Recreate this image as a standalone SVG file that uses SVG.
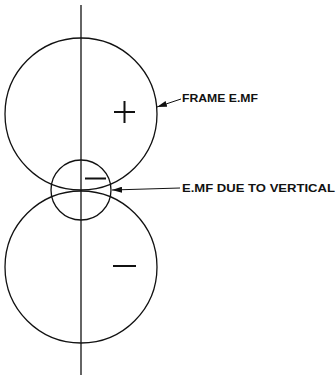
<svg xmlns="http://www.w3.org/2000/svg" width="336" height="377" viewBox="0 0 336 377">
<style>
.c{fill:none;stroke:#111;stroke-width:1.3}
.s{fill:none;stroke:#111;stroke-width:2}
.l{fill:none;stroke:#111;stroke-width:1}
.t{font-family:"Liberation Sans",Arial,sans-serif;font-size:10.5px;font-weight:bold;fill:#111}
</style>
<defs>
<marker id="ah" viewBox="0 0 10 6" refX="10" refY="3" markerWidth="10" markerHeight="6" markerUnits="userSpaceOnUse" orient="auto">
<path d="M0,0 L10,3 L0,6 Z" fill="#111"/>
</marker>
</defs>
<g id="axis"><line class="c" x1="81" y1="5" x2="81" y2="375"/></g>
<g id="frame-circle"><circle class="c" cx="81" cy="114" r="76"/><path class="s" d="M114,112 H135 M124.5,101 V123"/></g>
<g id="lower-circle"><circle class="c" cx="81" cy="267" r="76"/><path class="s" d="M113,266 H136"/></g>
<g id="vertical-circle"><circle class="c" cx="81" cy="190" r="30"/><path class="s" d="M85,178.5 H106"/></g>
<g id="connectors">
<line class="l" x1="181" y1="99" x2="157" y2="107" marker-end="url(#ah)"/>
<line class="l" x1="180" y1="188" x2="112" y2="190" marker-end="url(#ah)"/>
</g>
<g id="labels">
<text class="t" x="182" y="102" textLength="76" lengthAdjust="spacingAndGlyphs">FRAME E.MF</text>
<text class="t" x="182" y="192" textLength="153" lengthAdjust="spacingAndGlyphs">E.MF DUE TO VERTICAL</text>
</g>
</svg>
